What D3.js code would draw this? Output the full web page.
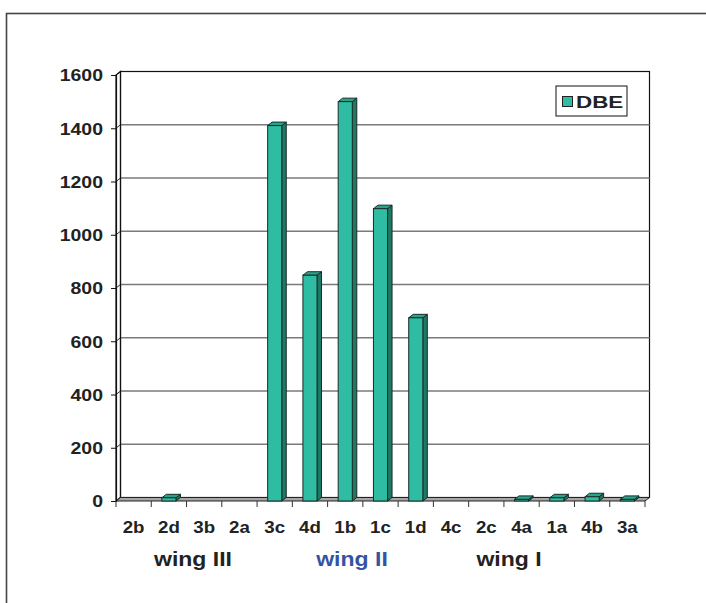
<!DOCTYPE html>
<html>
<head>
<meta charset="utf-8">
<script src="https://cdn.jsdelivr.net/npm/d3@7"></script>
<style>
  body { margin: 0; background: #fff; }
  svg text { font-family: "Liberation Sans", Arial, sans-serif; font-weight: bold; fill: #222; }
</style>
</head>
<body>
<div id="chart"></div>
<script>
// data
const categories = ['2b', '2d', '3b', '2a', '3c', '4d', '1b', '1c', '1d', '4c', '2c', '4a', '1a', '4b', '3a'];
const dbeValues = [0, 12, 0, 0, 1410, 848, 1500, 1098, 688, 0, 0, 6, 12, 16, 6];
const yTicks = [0, 200, 400, 600, 800, 1000, 1200, 1400, 1600];
const groupLabels = ['wing III', 'wing II', 'wing I'];
const seriesName = 'DBE';

const w = 706, h = 603;
const plotL = 116, plotR = 645, plotT = 75, plotB = 501;
const dx = 4.5, dy = -3.5;   // depth of the 3d box

const svg = d3.select('#chart').append('svg')
  .attr('width', w)
  .attr('height', h);

// outer frame (runs off the picture right and bottom)
svg.append('rect')
  .attr('x', 6.5).attr('y', 13.5)
  .attr('width', 760).attr('height', 660)
  .attr('fill', 'none')
  .attr('stroke', '#444')
  .attr('stroke-width', 1.6);

const x = d3.scaleBand()
  .domain(categories)
  .range([plotL, plotR])
  .padding(0);

const y = d3.scaleLinear()
  .domain([0, 1600])
  .range([plotB, plotT]);

// back wall
svg.append('rect')
  .attr('x', plotL + dx).attr('y', plotT + dy)
  .attr('width', plotR - plotL).attr('height', plotB - plotT)
  .attr('fill', '#fff')
  .attr('stroke', '#111')
  .attr('stroke-width', 1.2);

// gridlines on back wall and side wall
svg.selectAll('.grid')
  .data(yTicks.filter(d => d > 0 && d < 1600))
  .enter().append('line')
  .attr('class', 'grid')
  .attr('x1', plotL + dx).attr('x2', plotR + dx)
  .attr('y1', d => y(d) + dy).attr('y2', d => y(d) + dy)
  .attr('stroke', '#7a7a7a')
  .attr('stroke-width', 1.6);

svg.selectAll('.sidegrid')
  .data(yTicks)
  .enter().append('line')
  .attr('class', 'sidegrid')
  .attr('x1', plotL).attr('x2', plotL + dx)
  .attr('y1', d => y(d)).attr('y2', d => y(d) + dy)
  .attr('stroke', '#333')
  .attr('stroke-width', 1);

// side wall
svg.append('polygon')
  .attr('points', [[plotL, plotB], [plotL, plotT], [plotL + dx, plotT + dy], [plotL + dx, plotB + dy]].join(' '))
  .attr('fill', 'none')
  .attr('stroke', '#111')
  .attr('stroke-width', 1.2);

// floor
svg.append('polygon')
  .attr('points', [[plotL, plotB], [plotR, plotB], [plotR + dx, plotB + dy], [plotL + dx, plotB + dy]].join(' '))
  .attr('fill', '#a6a6a6')
  .attr('stroke', '#222')
  .attr('stroke-width', 1);

// bars
const barW = x.bandwidth() * 0.4;
const bars = svg.selectAll('.bar')
  .data(categories.map((c, i) => ({ cat: c, v: dbeValues[i] })).filter(d => d.v > 0))
  .enter().append('g')
  .attr('class', 'bar');

bars.append('polygon')   // side
  .attr('points', d => {
    const x1 = x(d.cat) + (x.bandwidth() + barW) / 2;
    return [[x1, y(d.v)], [x1 + dx, y(d.v) + dy], [x1 + dx, y(0) + dy], [x1, y(0)]].join(' ');
  })
  .attr('fill', '#1b7966')
  .attr('stroke', '#1d2a27')
  .attr('stroke-width', 1);

bars.append('polygon')   // top
  .attr('points', d => {
    const x0 = x(d.cat) + (x.bandwidth() - barW) / 2;
    return [[x0, y(d.v)], [x0 + barW, y(d.v)], [x0 + barW + dx, y(d.v) + dy], [x0 + dx, y(d.v) + dy]].join(' ');
  })
  .attr('fill', '#25a58b')
  .attr('stroke', '#1d2a27')
  .attr('stroke-width', 1);

bars.append('rect')      // front
  .attr('x', d => x(d.cat) + (x.bandwidth() - barW) / 2)
  .attr('y', d => y(d.v))
  .attr('width', barW)
  .attr('height', d => y(0) - y(d.v))
  .attr('fill', '#2ebda2')
  .attr('stroke', '#1d2a27')
  .attr('stroke-width', 1);

// y axis
const yAxis = svg.append('g')
  .attr('transform', 'translate(' + plotL + ',0)')
  .call(d3.axisLeft(y).tickValues(yTicks).tickFormat(d3.format('d')).tickSize(5).tickPadding(8));
yAxis.select('.domain').attr('stroke', '#111').attr('stroke-width', 1.2);
yAxis.selectAll('.tick line').attr('stroke', '#111');
yAxis.selectAll('.tick text')
  .style('font-size', '16.5px')
  .attr('x', -13 / 1.18)
  .attr('transform', 'scale(1.18,1)')
  .attr('dy', '0.36em');

// x axis: labels at band centres, ticks at band edges
const xAxis = svg.append('g')
  .attr('transform', 'translate(0,' + plotB + ')')
  .call(d3.axisBottom(x).tickSize(0).tickPadding(20));
xAxis.select('.domain').remove();
xAxis.selectAll('.tick text')
  .style('font-size', '17px')
  .attr('transform', 'scale(1.1,1)');

svg.selectAll('.xtick')
  .data(categories.concat(['end']))
  .enter().append('line')
  .attr('class', 'xtick')
  .attr('x1', d => d === 'end' ? plotR : x(d))
  .attr('x2', d => d === 'end' ? plotR : x(d))
  .attr('y1', plotB).attr('y2', plotB + 6)
  .attr('stroke', '#333')
  .attr('stroke-width', 1);

// group labels under the categories
const groupX = [193, 352, 509];
const groupColor = ['#222', '#3553a4', '#222'];
svg.selectAll('.group')
  .data(groupLabels)
  .enter().append('text')
  .attr('class', 'group')
  .attr('transform', (d, i) => 'translate(' + groupX[i] + ',566) scale(1.15,1)')
  .attr('text-anchor', 'middle')
  .style('font-size', '20px')
  .style('fill', (d, i) => groupColor[i])
  .text(d => d);

// legend
const legend = svg.append('g').attr('transform', 'translate(556,86)');
legend.append('rect')
  .attr('width', 71).attr('height', 30)
  .attr('fill', '#fff')
  .attr('stroke', '#111')
  .attr('stroke-width', 1);
legend.append('rect')
  .attr('x', 6.5).attr('y', 10.5)
  .attr('width', 10).attr('height', 10)
  .attr('fill', '#2ebda2')
  .attr('stroke', '#222')
  .attr('stroke-width', 1);
legend.append('text')
  .attr('transform', 'translate(20,21.5) scale(1.4,1)')
  .style('font-size', '16px')
  .text(seriesName);
</script>
</body>
</html>
